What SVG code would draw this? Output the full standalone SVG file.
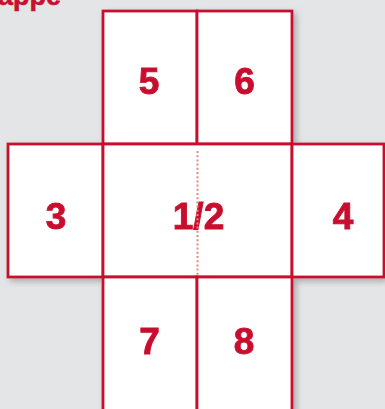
<svg xmlns="http://www.w3.org/2000/svg" width="385" height="409" viewBox="0 0 385 409">
<defs>
<filter id="sh" x="-10%" y="-10%" width="130%" height="130%">
<feDropShadow dx="3" dy="3" stdDeviation="3" flood-color="#7a7a7a" flood-opacity="0.55"/>
</filter>
<style>
.box{fill:#ffffff;stroke:#c8102e;stroke-width:2.8}
.num{font-family:"Liberation Sans",Arial,sans-serif;font-weight:bold;font-size:37px;fill:#c8102e;stroke:#c8102e;stroke-width:0.9;text-anchor:middle}
.title{font-family:"Liberation Sans",Arial,sans-serif;font-weight:bold;font-size:27px;fill:#c8102e;stroke:#c8102e;stroke-width:0.6}
.fold{stroke:#e8877c;stroke-width:2;stroke-dasharray:2 2.2;fill:none}
</style>
</defs>
<rect x="0" y="0" width="385" height="409" fill="#e4e5e7"/>
<text class="title" x="-2" y="5">appe</text>
<g filter="url(#sh)">
<g id="node-5"><rect class="box" x="103" y="11" width="94" height="133"/><text class="num" x="149" y="94">5</text></g>
<g id="node-6"><rect class="box" x="197" y="11" width="95" height="133"/><text class="num" x="244.5" y="94">6</text></g>
<g id="node-3"><rect class="box" x="8" y="144" width="95" height="133"/><text class="num" x="56" y="229">3</text></g>
<g id="node-12"><rect class="box" x="103" y="144" width="189" height="133"/><text class="num" x="198.5" y="229">1/2</text></g>
<g id="node-4"><rect class="box" x="292" y="144" width="92" height="133"/><text class="num" x="343" y="229">4</text></g>
<g id="node-7"><rect class="box" x="103" y="277" width="94" height="143"/><text class="num" x="149.5" y="354">7</text></g>
<g id="node-8"><rect class="box" x="197" y="277" width="95" height="143"/><text class="num" x="244" y="354">8</text></g>
</g>
<g id="connectors">
<line class="fold" x1="197.5" y1="151" x2="197.5" y2="276"/>
</g>
</svg>
